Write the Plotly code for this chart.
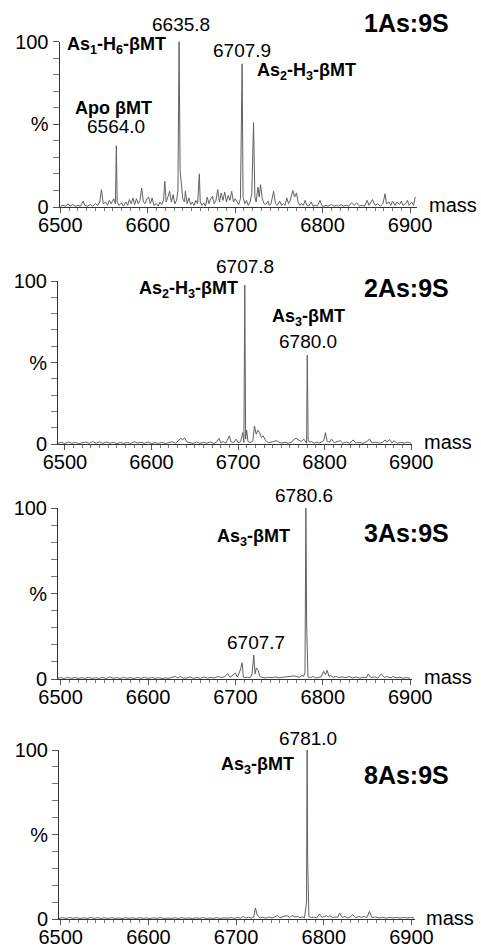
import plotly.graph_objects as go

W, H = 481, 948

# ---------------- data ----------------
p1_mass = [6500, 6503, 6506, 6509, 6511, 6514, 6517, 6520, 6523, 6526, 6528, 6531, 6534, 6537, 6540, 6543, 6545,
           6547, 6549, 6552, 6554, 6556, 6558, 6561, 6563, 6564.0, 6565, 6567, 6570, 6572, 6575, 6577, 6579, 6581,
           6583, 6585, 6587, 6589, 6591, 6593, 6595, 6597, 6599, 6601, 6603, 6605, 6607, 6610, 6612, 6614, 6616,
           6618, 6619.5, 6621, 6623, 6625, 6627, 6629, 6631, 6633, 6634.5, 6635.8, 6637, 6638.5, 6640, 6642, 6643,
           6645, 6647, 6649, 6651, 6653, 6655, 6657, 6659, 6660, 6662, 6664, 6666, 6668, 6670, 6672, 6674, 6676,
           6678, 6680, 6682, 6684, 6686, 6688, 6690, 6692, 6694, 6696, 6698, 6700, 6702, 6704, 6706, 6707.9, 6709,
           6711, 6713, 6715, 6717, 6719, 6721, 6722.5, 6724, 6726, 6727.5, 6729, 6731, 6733, 6735, 6737.5, 6739,
           6741, 6744, 6746, 6748, 6751, 6753, 6755, 6757, 6759, 6761, 6763, 6766, 6768, 6770, 6772, 6774, 6776,
           6778, 6780, 6782, 6784, 6787, 6789, 6792, 6794, 6797, 6799, 6801, 6804, 6806, 6810, 6813, 6816, 6818,
           6821, 6824, 6827, 6830, 6833, 6836, 6839, 6842, 6845, 6848, 6851, 6853, 6857, 6860, 6863, 6866, 6869,
           6871.5, 6873, 6876, 6878, 6880, 6883, 6885, 6888, 6890, 6892, 6895, 6897, 6899, 6902, 6904, 6906]
p1_int = [0.5, 1, 0.5, 2, 0.5, 1.5, 0.5, 1, 0.5, 3.5, 1, 0.5, 1.5, 0.5, 2, 1, 3,
          10.5, 2, 3, 1, 4, 2, 5, 2, 37, 3, 1, 2.5, 0.5, 3, 1, 4.5, 2,
          5.5, 1.5, 5, 2, 4, 11.5, 3, 2, 5, 6, 2, 5.5, 1, 2, 0.5, 3, 1.5,
          4, 15.5, 3, 6, 9.5, 3, 7.5, 2, 4, 10, 100, 22, 11, 5, 3, 9.5,
          2, 5.5, 1.5, 3, 1, 4, 2, 20, 3, 1, 2.5, 0.5, 6, 2, 5, 6.5, 2,
          4, 10.5, 3, 8.5, 4, 9, 3, 7, 4, 9.5, 3, 5, 3.5, 1.5, 5, 86.5, 6,
          2, 4, 1, 3, 8, 51, 6, 3, 12, 6, 13.5, 5, 2, 1.5, 3.5, 1,
          2, 9.5, 2, 1, 3.5, 1, 2, 1, 5.5, 2, 4, 10, 6, 8.5, 3, 1, 2,
          1, 4, 1, 0.5, 3, 0.5, 1, 0.5, 4, 1, 0.5, 1, 0.5, 1.5, 0.5, 1, 0.5,
          1.5, 0.5, 1, 0.5, 2.5, 1, 2.5, 0.5, 1, 0.5, 4, 1, 4.5, 1, 2, 0.5, 2,
          8, 2, 3, 1, 3.5, 1, 3, 1.5, 3.5, 1, 2, 4, 1, 3, 1, 6]

p2_mass = [6492, 6496, 6500, 6504, 6508, 6512, 6516, 6520, 6524, 6528, 6532, 6536, 6540, 6544, 6548, 6552, 6556,
           6560, 6564, 6568, 6572, 6576, 6580, 6584, 6588, 6592, 6596, 6600, 6604, 6608, 6612, 6616, 6620, 6624,
           6628, 6631, 6634, 6636, 6638, 6641, 6644, 6648, 6652, 6656, 6660, 6664, 6668, 6672, 6675, 6678, 6680,
           6683, 6686, 6688, 6690, 6692, 6695, 6698, 6700, 6703, 6705.5, 6706.8, 6707.8, 6708.8, 6710, 6711.5,
           6714, 6717, 6719, 6721, 6723, 6725, 6727, 6729, 6732, 6735, 6738, 6741, 6744, 6747, 6750, 6754, 6758,
           6762, 6764, 6767, 6770, 6773, 6776, 6778, 6779.2, 6780.0, 6781, 6782.5, 6785, 6788, 6791, 6794, 6797,
           6799, 6801, 6803, 6806, 6808, 6811, 6814, 6818, 6821, 6825, 6829, 6833, 6836, 6840, 6844, 6848, 6852,
           6855, 6859, 6863, 6867, 6870, 6872, 6875, 6878, 6880, 6884, 6888, 6892, 6896, 6900]
p2_int = [0.5, 1, 0.3, 1.2, 0.4, 1, 0.3, 0.8, 1.2, 0.4, 1.5, 0.5, 1.3, 0.4, 1.2, 0.5, 1,
          0.3, 0.9, 0.4, 1, 0.3, 1.4, 0.6, 1, 0.4, 1.2, 0.3, 0.8, 0.4, 1, 0.3, 0.7, 1.4,
          0.5, 2, 3.5, 2.5, 3.8, 1.2, 1, 0.4, 1.2, 0.4, 1, 0.5, 1.3, 0.4, 1, 3.5, 0.8,
          1.4, 0.6, 2.5, 5, 1.2, 1, 3, 0.8, 1.5, 7, 1, 97.5, 3, 8.5, 1.5,
          1, 1.5, 11, 6, 8.5, 7, 4, 5, 2, 0.8, 1, 1.5, 2, 1.2, 0.6, 1, 0.5,
          1.2, 2.5, 3.5, 2.5, 1.5, 3, 1, 0.5, 54.6, 3, 1, 1.5, 0.5, 1.2, 0.6, 1.5,
          2, 7, 1.5, 1.2, 3, 0.8, 1.3, 2, 0.5, 1.2, 0.6, 2.5, 0.6, 1, 0.4, 1.2, 3,
          0.6, 1.2, 0.5, 1, 2.5, 1, 2.8, 0.6, 2, 0.5, 1, 0.6, 1.2, 0.5]

p3_mass = [6497, 6500, 6504, 6508, 6512, 6516, 6520, 6524, 6528, 6532, 6536, 6540, 6544, 6548, 6552, 6556, 6560,
           6564, 6568, 6572, 6576, 6580, 6584, 6588, 6592, 6596, 6600, 6604, 6608, 6612, 6616, 6620, 6624, 6628,
           6631, 6634, 6637, 6640, 6644, 6648, 6652, 6656, 6660, 6664, 6668, 6672, 6676, 6680, 6684, 6688, 6691,
           6694, 6697, 6700, 6702, 6704, 6706, 6707.7, 6709, 6711, 6714, 6717, 6719, 6721, 6722.5, 6724, 6726,
           6728, 6730, 6734, 6738, 6742, 6746, 6750, 6754, 6758, 6761, 6764, 6767, 6770, 6773, 6776, 6778, 6779.6,
           6780.6, 6781.5, 6783, 6786, 6789, 6792, 6795, 6798, 6801, 6803, 6805, 6807, 6809, 6812, 6815, 6818,
           6822, 6826, 6830, 6834, 6838, 6842, 6846, 6850, 6852, 6855, 6859, 6863, 6867, 6870, 6874, 6878, 6880,
           6884, 6888, 6892, 6896, 6900]
p3_int = [0.5, 0.8, 0.3, 1, 0.4, 0.9, 0.3, 0.8, 0.4, 1, 0.3, 0.8, 0.4, 0.9, 0.3, 1.2, 0.4,
          0.9, 0.3, 1, 0.4, 0.8, 0.3, 0.9, 0.4, 1, 0.3, 0.9, 0.4, 0.8, 0.3, 0.6, 0.4, 1,
          1.5, 0.6, 1.5, 0.5, 0.6, 1.2, 0.4, 0.9, 0.4, 1.2, 0.5, 1, 0.6, 1.5, 0.8, 1.5, 3,
          1, 2, 3.5, 1.2, 3, 6, 9.5, 1.2, 0.8, 1, 0.8, 3, 14, 3, 6.5, 5,
          1.5, 1, 0.6, 1, 0.8, 1.2, 0.7, 1, 1.2, 1.6, 1.5, 1.8, 1.5, 1, 2, 1.5, 4,
          100, 31, 1.2, 0.8, 1.5, 0.6, 0.9, 1.2, 4.5, 2.5, 5, 1.5, 2, 1, 1.5, 0.8,
          1.2, 0.8, 1.4, 0.6, 1.2, 0.5, 1, 0.8, 3, 0.8, 1.2, 0.6, 3, 1, 1.3, 0.6, 1.5,
          0.7, 1, 0.5, 0.8, 0.4]

p4_mass = [6498, 6502, 6506, 6510, 6514, 6518, 6522, 6526, 6530, 6534, 6538, 6542, 6546, 6550, 6554, 6558, 6562,
           6566, 6570, 6574, 6578, 6582, 6586, 6590, 6594, 6598, 6602, 6606, 6610, 6614, 6618, 6622, 6626, 6630,
           6634, 6638, 6642, 6646, 6650, 6654, 6658, 6662, 6666, 6670, 6674, 6678, 6682, 6686, 6690, 6694, 6698,
           6702, 6705, 6708, 6711, 6714, 6717, 6720, 6722, 6724, 6727, 6730, 6734, 6738, 6741, 6744, 6747, 6750,
           6754, 6758, 6761, 6764, 6767, 6770, 6773, 6776, 6778, 6780.3, 6781.0, 6781.6, 6783, 6786, 6789, 6792,
           6795, 6798, 6801, 6803, 6805, 6807, 6810, 6813, 6816, 6818, 6821, 6824, 6827, 6830, 6833, 6836, 6840,
           6843, 6846, 6849, 6852, 6855, 6859, 6863, 6867, 6871, 6875, 6879, 6883, 6887, 6891, 6895, 6899, 6903]
p4_int = [0.3, 0.8, 0.3, 0.9, 0.4, 0.8, 0.3, 0.7, 0.4, 0.9, 0.3, 0.8, 0.4, 0.7, 0.3, 0.8, 0.4,
          0.6, 0.3, 0.8, 0.4, 0.7, 0.3, 0.8, 0.4, 0.6, 0.3, 0.7, 0.4, 0.8, 0.3, 0.6, 0.4, 0.7,
          0.3, 0.8, 0.4, 0.6, 0.3, 0.7, 0.4, 0.8, 0.3, 0.6, 0.4, 0.8, 0.3, 0.7, 0.5, 0.8, 0.4,
          0.9, 0.5, 1.5, 0.6, 1, 0.5, 1.2, 6.5, 2.5, 0.6, 1, 0.5, 1.2, 0.6, 1.5, 2, 0.8,
          1.2, 2, 1, 2, 1.2, 1.5, 0.8, 1.2, 0.6, 10, 100, 34, 1.5, 0.8, 1.2, 0.6,
          3, 1, 1.5, 2, 1.2, 2, 0.8, 1.2, 1, 3.5, 1, 1.5, 0.7, 1.2, 2.5, 0.8, 1.5,
          1, 1.5, 0.8, 4.5, 0.8, 1.2, 0.6, 1, 0.5, 1, 0.6, 1, 0.5, 1, 0.6, 0.9, 0.5]

x_tick_values = [6500, 6600, 6700, 6800, 6900]
x_tick_labels = ["6500", "6600", "6700", "6800", "6900"]
y_tick_values = [0, 50, 100]
y_tick_labels = ["0", "%", "100"]

panel_titles = ["1As:9S", "2As:9S", "3As:9S", "8As:9S"]

# ---------------- layout geometry (pixels) ----------------
FONT = "Liberation Sans, Arial, Helvetica, sans-serif"
panels = [
    dict(xd=(59.5, 417), xr=(6499, 6908), yd=(41.5, 207)),
    dict(xd=(58, 412), xr=(6492, 6901), yd=(281, 444)),
    dict(xd=(58, 412), xr=(6497, 6902), yd=(508, 679)),
    dict(xd=(59, 415), xr=(6498, 6904), yd=(750, 919)),
]
series = [(p1_mass, p1_int), (p2_mass, p2_int), (p3_mass, p3_int), (p4_mass, p4_int)]


def px(x):
    return x / W


def py(y):
    return 1 - y / H


fig = go.Figure()
layout = dict(width=W, height=H, margin=dict(l=0, r=0, t=0, b=0, pad=0), autosize=False,
              template="none",
              paper_bgcolor="white", plot_bgcolor="white", showlegend=False,
              font=dict(family=FONT, color="black"))

for i, (p, (m, v)) in enumerate(zip(panels, series)):
    k = "" if i == 0 else str(i + 1)
    fig.add_trace(go.Scatter(x=m, y=v, mode="lines", xaxis="x" + k, yaxis="y" + k,
                             line=dict(color="#606060", width=1), hoverinfo="skip",
                             cliponaxis=False))
    layout["xaxis" + k] = dict(
        domain=[px(p["xd"][0]), px(p["xd"][1])], range=list(p["xr"]), anchor="y" + k,
        automargin=False,
        showline=True, linecolor="#333", linewidth=1, showgrid=False, zeroline=False,
        ticks="outside", ticklen=5, tickcolor="#555", tickwidth=1,
        tickvals=x_tick_values, ticktext=x_tick_labels, ticklabelstandoff=-5,
        tickfont=dict(size=20, family=FONT, color="black"),
        minor=dict(dtick=10, tick0=6500, ticks="outside", ticklen=3, tickcolor="#777", showgrid=False),
        fixedrange=True)
    layout["yaxis" + k] = dict(
        domain=[py(p["yd"][1]), py(p["yd"][0])], range=[0, 100], anchor="x" + k,
        automargin=False,
        showline=True, linecolor="#333", linewidth=1, showgrid=False, zeroline=False,
        ticks="outside", ticklen=6, tickcolor="#555", tickwidth=1,
        tickvals=y_tick_values, ticktext=y_tick_labels,
        tickfont=dict(size=20, family=FONT, color="black"),
        minor=dict(dtick=10, tick0=0, ticks="outside", ticklen=6, tickcolor="#777", showgrid=False),
        fixedrange=True)

ann = []


def add(text, x, y, size=19, bold=False):
    t = "<b>%s</b>" % text if bold else text
    ann.append(dict(text=t, x=px(x), y=py(y), xref="paper", yref="paper",
                    xanchor="center", yanchor="middle", showarrow=False,
                    font=dict(size=size, family=FONT, color="black")))


b2 = "As<sub>2</sub>-H<sub>3</sub>-βMT"
b3 = "As<sub>3</sub>-βMT"
# panel 1
add("6635.8", 181, 25)
add("As<sub>1</sub>-H<sub>6</sub>-βMT", 116, 45, 18, True)
add("6707.9", 242, 50)
add(b2, 306, 72, 18, True)
add("Apo βMT", 113, 108, 18, True)
add("6564.0", 116, 127)
add(panel_titles[0], 406, 23, 25, True)
# panel 2
add("6707.8", 245, 267)
add(b2, 188, 290, 18, True)
add(panel_titles[1], 406, 288, 25, True)
add(b3, 308, 317, 18, True)
add("6780.0", 308, 342)
# panel 3
add("6780.6", 304, 495)
add(b3, 253, 537, 18, True)
add(panel_titles[2], 406, 533, 25, True)
add("6707.7", 256, 642)
# panel 4
add("6781.0", 308, 738)
add(b3, 257, 765, 18, True)
add(panel_titles[3], 406, 775, 25, True)
# axis names
for (xx, yy) in [(453, 205), (448, 442), (448, 677), (450, 918)]:
    add("mass", xx, yy, 20)

layout["annotations"] = ann
fig.update_layout(**layout)
fig.write_html("out.html", config={"displayModeBar": False, "staticPlot": True},
               post_script="document.body.style.margin='0';document.body.style.overflow='hidden';")
